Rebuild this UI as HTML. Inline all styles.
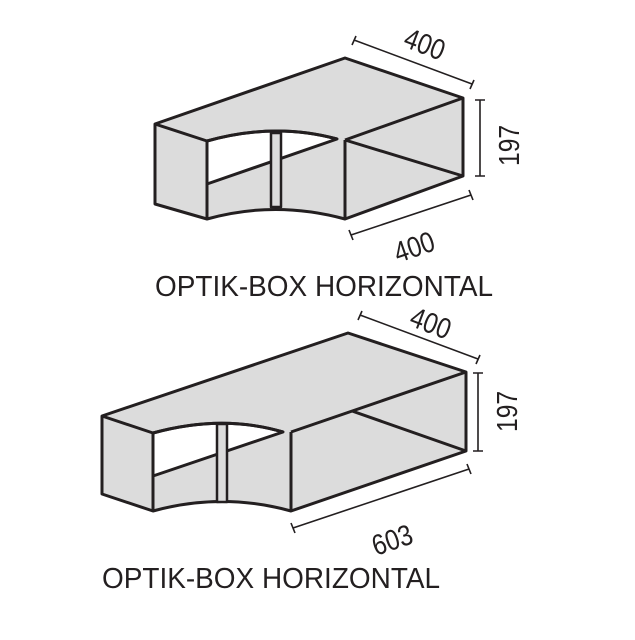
<!DOCTYPE html>
<html><head><meta charset="utf-8"><style>html,body{margin:0;padding:0;background:#fff}</style></head><body>
<svg width="635" height="635" viewBox="0 0 635 635" xmlns="http://www.w3.org/2000/svg" font-family="Liberation Sans, sans-serif">
<g stroke="#231f20" stroke-width="3" stroke-linejoin="round" fill="#dcdcdc">
<path d="M155,124 L345,58 L463,98 L463,176 L345,219 Q275,200 207,219 L155,204 Z"/>
<path d="M207,141 Q275,122 337,139 L207,184 Z" fill="#fff"/>
<path d="M155,124 L207,141 L207,219 M345,140 L345,219 M207,141 Q275,122 337,139 M345,140 L463,98 M345,140 L463,176" fill="none"/>
<rect x="271" y="133" width="10" height="74" fill="#dcdcdc" stroke-width="2.5"/>
<path d="M102,416 L348,333 L466,372 L466,451 L291,511 Q222,492 153,511 L102,494 Z"/>
<path d="M153,433 Q222,414 283,432 L153,476 Z" fill="#fff"/>
<path d="M102,416 L153,433 L153,511 M291,432 L291,511 M153,433 Q222,414 283,432 M291,432 L466,372 M352,411 L466,451" fill="none"/>
<rect x="217" y="424" width="10" height="78" fill="#dcdcdc" stroke-width="2.5"/>
</g>
<g stroke="#231f20" stroke-width="1.6" fill="none">
<path d="M354,40 L472,84 M352,45 L356,36 M470,89 L474,80"/>
<path d="M480,100 L480,176 M475,100 L485,100 M475,176 L485,176"/>
<path d="M351,235 L471,195 M349,230 L353,240 M469,190 L473,200"/>
<path d="M360,315 L478,359 M358,320 L362,311 M476,364 L480,355"/>
<path d="M478,373 L478,451 M473,373 L483,373 M473,451 L483,451"/>
<path d="M293,528 L469,469 M291,523 L295,533 M467,464 L471,474"/>
</g>
<g fill="#231f20" font-size="29">
<text transform="translate(402,46) rotate(21) scale(0.85,1)">400</text>
<text transform="translate(519,166) rotate(-90) scale(0.85,1)">197</text>
<text transform="translate(398,263) rotate(-19) scale(0.85,1)">400</text>
<text transform="translate(408,325) rotate(21) scale(0.85,1)">400</text>
<text transform="translate(517,432) rotate(-90) scale(0.85,1)">197</text>
<text transform="translate(376,556) rotate(-19) scale(0.85,1)">603</text>
<text x="155" y="296" textLength="338" lengthAdjust="spacingAndGlyphs">OPTIK-BOX HORIZONTAL</text>
<text x="102" y="588" textLength="338" lengthAdjust="spacingAndGlyphs">OPTIK-BOX HORIZONTAL</text>
</g>
</svg>
</body></html>
